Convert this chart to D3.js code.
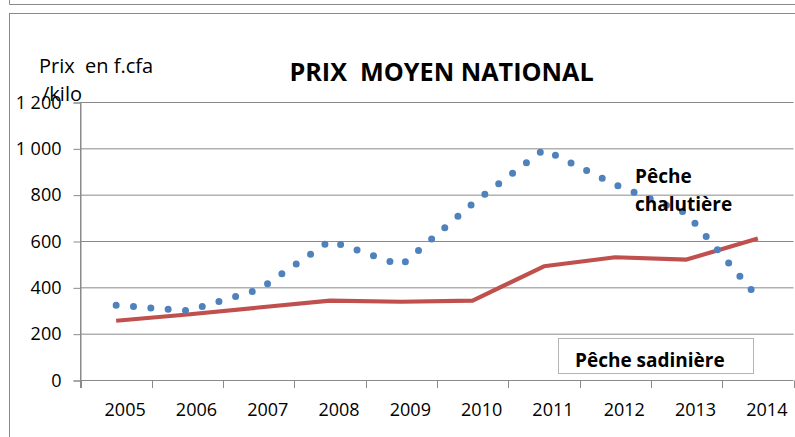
<!DOCTYPE html>
<html>
<head>
<meta charset="utf-8">
<script src="https://cdn.jsdelivr.net/npm/d3@7"></script>
<style>
  body { margin: 0; background: #fff; }
  text { font-family: "Open Sans", "Noto Sans", sans-serif; fill: #000; white-space: pre; }
</style>
</head>
<body>
<svg id="chart" width="795" height="437"></svg>
<script>
// data
var years = ['2005','2006','2007','2008','2009','2010','2011','2012','2013','2014'];
var chalutiere = [325, 301, 392, 603, 497, 764, 997, 845, 722, 358];
var sardiniere = [258, 285, 315, 345, 340, 345, 493, 532, 522, 613];
var yTicks = [0, 200, 400, 600, 800, 1000, 1200];

var svg = d3.select('#chart');
var grey = '#8a8a8a';

// frames
svg.append('line').attr('x1', 9.5).attr('x2', 795).attr('y1', 4.5).attr('y2', 4.5)
  .attr('stroke', grey);
svg.append('line').attr('x1', 9.5).attr('x2', 9.5).attr('y1', 0).attr('y2', 4.5)
  .attr('stroke', grey);
svg.append('rect').attr('x', 9.5).attr('y', 13.5).attr('width', 820).attr('height', 500)
  .attr('fill', 'none').attr('stroke', grey);

var x = d3.scaleBand().domain(years).range([80.5, 793.5]);
var y = d3.scaleLinear().domain([0, 1200]).range([380.5, 102.5]);
var cx = function(d) { return x(d) + x.bandwidth() / 2; };

var fmt = d3.formatLocale({ decimal: ',', thousands: '\u00a0', grouping: [3], currency: ['', ''] }).format(',');

// grid
svg.append('g').selectAll('line').data(yTicks).enter().append('line')
  .attr('x1', 80.5).attr('x2', 793.5)
  .attr('y1', function(d) { return y(d); }).attr('y2', function(d) { return y(d); })
  .attr('stroke', grey);

// y axis
var yAxis = svg.append('g').attr('transform', 'translate(80.5,0)')
  .call(d3.axisLeft(y).tickValues(yTicks).tickSize(7).tickPadding(12).tickFormat(fmt));
yAxis.select('.domain').attr('stroke', grey);
yAxis.selectAll('.tick line').attr('stroke', grey);
yAxis.selectAll('.tick text').style('font-size', '18px').attr('fill', '#000')
  .attr('font-family', null);

// x axis: ticks on the band edges, labels under the bands
var edges = years.map(function(d) { return x(d); }).concat([x.range()[1]]);
svg.append('g').selectAll('line').data(edges).enter().append('line')
  .attr('x1', function(d) { return Math.round(d) + 0.5; })
  .attr('x2', function(d) { return Math.round(d) + 0.5; })
  .attr('y1', 380.5).attr('y2', 388).attr('stroke', grey);
svg.append('line').attr('x1', 80.5).attr('x2', 80.5).attr('y1', 102.5).attr('y2', 388)
  .attr('stroke', grey);
svg.append('g').selectAll('text').data(years).enter().append('text')
  .attr('x', function(d) { return cx(d) + 9; }).attr('y', 416)
  .attr('text-anchor', 'middle').style('font-size', '18px')
  .text(function(d) { return d; });

// sardiniere line
var line = d3.line()
  .x(function(d, i) { return cx(years[i]); })
  .y(function(d) { return y(d); });

svg.append('path').datum(sardiniere)
  .attr('d', line)
  .attr('fill', 'none').attr('stroke', '#c0504d').attr('stroke-width', 4.2)
  .attr('stroke-linejoin', 'round');

// chalutiere dotted line: 44 round dots like the original, ending in a gap
var dots = svg.append('path').datum(chalutiere)
  .attr('d', line)
  .attr('fill', 'none').attr('stroke', '#4f81bd').attr('stroke-width', 7)
  .attr('stroke-linecap', 'round');
var len = dots.node().getTotalLength();
dots.attr('stroke-dasharray', '0 ' + (len / 43.6));

// titles
svg.append('text').attr('x', 441.5).attr('y', 81).attr('text-anchor', 'middle')
  .style('font-size', '25.2px').style('font-weight', 'bold')
  .text('PRIX  MOYEN NATIONAL');
svg.append('text').attr('x', 39).attr('y', 73).style('font-size', '20px')
  .text('Prix  en f.cfa');
svg.append('text').attr('x', 42).attr('y', 101).style('font-size', '20px')
  .text('/kilo');

// series labels
svg.append('text').attr('x', 635).attr('y', 183).style('font-size', '19px')
  .style('font-weight', 'bold').text('Pêche');
svg.append('text').attr('x', 635).attr('y', 211).style('font-size', '19px')
  .style('font-weight', 'bold').text('chalutière');

svg.append('rect').attr('x', 558.5).attr('y', 338.5).attr('width', 195).attr('height', 35)
  .attr('fill', '#fff').attr('stroke', '#b4b4b4');
svg.append('text').attr('x', 575).attr('y', 367).style('font-size', '19px')
  .style('font-weight', 'bold').text('Pêche sadinière');
</script>
</body>
</html>
